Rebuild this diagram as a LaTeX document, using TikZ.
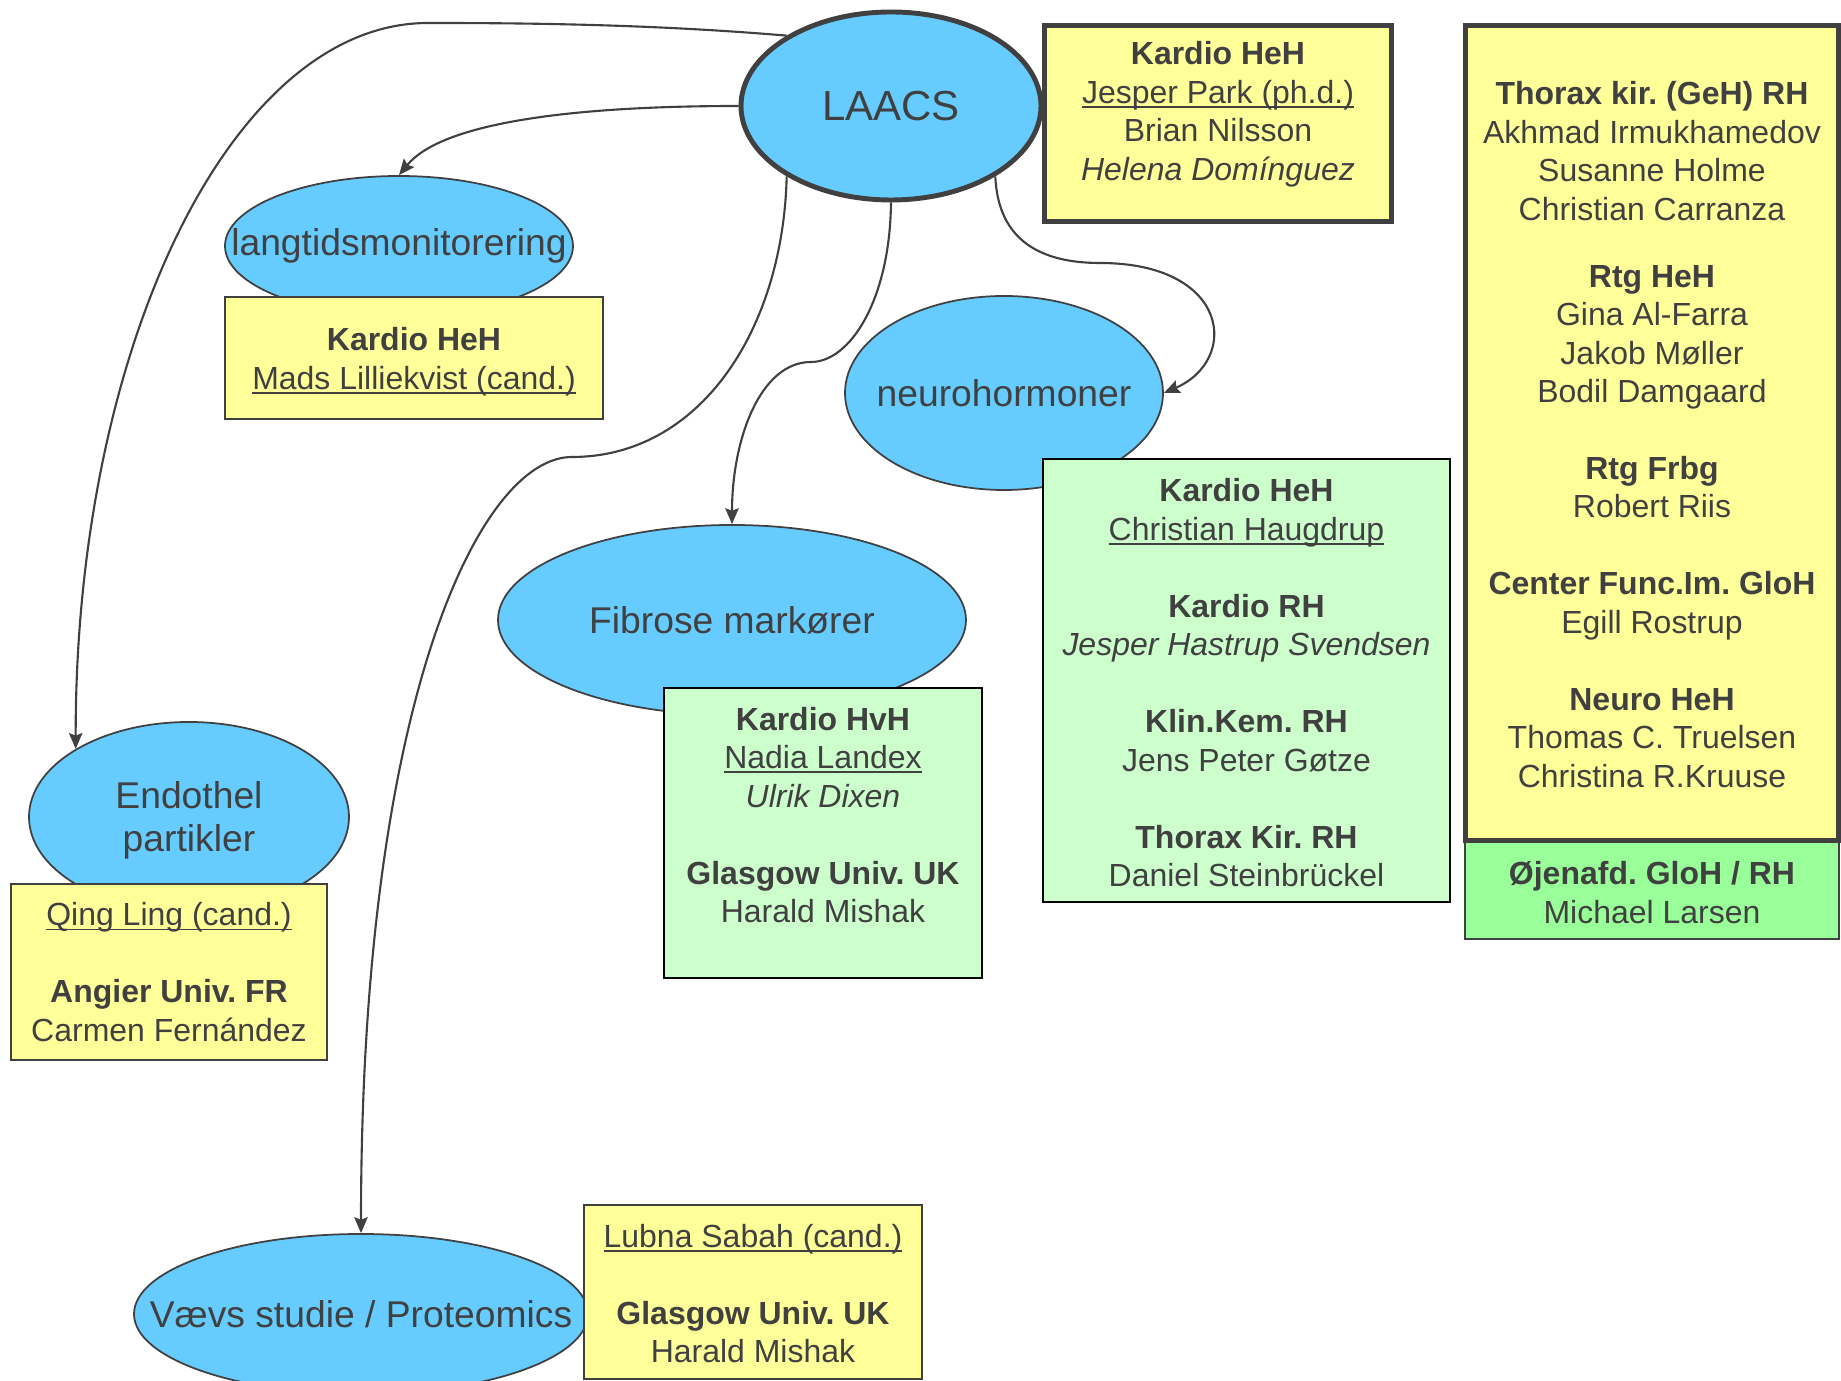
\documentclass[tikz,border=0pt]{standalone}
\usepackage{xcolor}
\usepackage{fontspec}
\setmainfont{Liberation Sans}
\usepackage{tikz}
\usetikzlibrary{shapes,arrows.meta,positioning,calc}

\definecolor{topicblue}{HTML}{66CCFF}
\definecolor{boxyellow}{HTML}{FFFF99}
\definecolor{boxgreen}{HTML}{CCFFCC}
\definecolor{eyegreen}{HTML}{99FF99}
\definecolor{ink}{HTML}{404040}

\frenchspacing
\newcommand{\zw}[1]{\makebox[0pt]{#1}}
\newcommand{\grp}{\\[3.85mm]}
\newcommand{\ulname}[1]{\setbox0\hbox{#1}\rlap{\rule[-1.2pt]{\wd0}{0.45pt}}\box0}

\begin{document}
\begin{tikzpicture}[
    topic/.style={ellipse, draw=ink, fill=topicblue, line width=0.5pt, inner sep=0pt,
        text=ink, font=\fontsize{10.6}{12.2}\selectfont},
    panel/.style={rectangle, draw=ink, line width=0.5pt, inner sep=0pt, outer sep=0pt},
    names/.style={inner sep=0pt, align=center, text=ink, font=\fontsize{9.1}{10.95}\selectfont},
    conn/.style={draw=ink, line width=0.6pt, -{Stealth[length=4.5pt,width=3.8pt,inset=0.7pt]}}
]
    \path[use as bounding box, fill=white] (0,0) rectangle (18.41,-13.81);

    % Topics
    \node[topic, line width=1.4pt, minimum width=3.00cm, minimum height=1.88cm,
        font=\fontsize{11.95}{14}\selectfont] (laacs) at (8.91,-1.06) {LAACS};
    \node[topic, minimum width=3.48cm, minimum height=1.40cm] (langtid) at (3.99,-2.46) {\zw{langtidsmonitorering}};
    \node[topic, minimum width=3.18cm, minimum height=1.94cm] (neuro) at (10.04,-3.93) {\zw{neurohormoner}};
    \node[topic, minimum width=4.68cm, minimum height=1.90cm] (fibrose) at (7.32,-6.20) {Fibrose markører};
    \node[topic, minimum width=3.20cm, minimum height=1.90cm, align=center] (endothel) at (1.89,-8.17) {\\[-0.9mm]Endothel\\partikler};
    \node[topic, minimum width=4.54cm, minimum height=1.60cm] (vaev) at (3.61,-13.14) {\zw{Vævs studie / Proteomics}};

    % Connectors
    \draw[conn] (laacs.146) .. controls (6.50,-0.24) and (5.20,-0.23) .. (4.28,-0.23)
        .. controls (2.30,-0.23) and (0.75,-3.50) .. (endothel.149);
    \draw[conn] (laacs.west) .. controls (5.60,-1.06) and (4.40,-1.25) .. (langtid.north);
    \draw[conn] (laacs.214) .. controls (7.83,-3.30) and (7.00,-4.57) .. (5.72,-4.57)
        .. controls (4.80,-4.57) and (3.61,-7.00) .. (vaev.north);
    \draw[conn] (laacs.south) .. controls (8.90,-3.00) and (8.50,-3.62) .. (8.11,-3.62)
        .. controls (7.60,-3.62) and (7.32,-4.40) .. (fibrose.north);
    \draw[conn] (laacs.326) .. controls (9.98,-2.40) and (10.40,-2.63) .. (11.00,-2.63)
        .. controls (12.30,-2.63) and (12.40,-3.60) .. (neuro.east);

    % Groups
    \node[panel, fill=boxyellow, line width=1.4pt, minimum width=3.475cm, minimum height=1.96cm] (hehbox) at (12.18,-1.235) {};
    \node[names, below=0.155cm of hehbox.north] (hehtxt)
        {\textbf{Kardio HeH}\\\ulname{Jesper Park (ph.d.)}\\Brian Nilsson\\\textit{Helena Domínguez}};

    \node[panel, fill=boxyellow, minimum width=3.78cm, minimum height=1.22cm] (langbox) at (4.14,-3.58) {};
    \node[names, below=0.30cm of langbox.north] (langtxt)
        {\textbf{Kardio HeH}\\\ulname{Mads Lilliekvist (cand.)}};

    \node[panel, draw=black, fill=boxgreen, minimum width=4.07cm, minimum height=4.43cm] (neurobox) at (12.465,-6.805) {};
    \node[names, below=0.19cm of neurobox.north] (neurotxt)
        {\textbf{Kardio HeH}\\\ulname{Christian Haugdrup}\grp
         \textbf{Kardio RH}\\\textit{Jesper Hastrup Svendsen}\grp
         \textbf{Klin.Kem. RH}\\Jens Peter Gøtze\grp
         \textbf{Thorax Kir. RH}\\Daniel Steinbrückel};

    \node[panel, draw=black, fill=boxgreen, minimum width=3.18cm, minimum height=2.90cm] (fibbox) at (8.23,-8.33) {};
    \node[names, below=0.185cm of fibbox.north] (fibtxt)
        {\textbf{Kardio HvH}\\\ulname{Nadia Landex}\\\textit{Ulrik Dixen}\grp
         \textbf{Glasgow Univ. UK}\\Harald Mishak};

    \node[panel, fill=boxyellow, minimum width=3.16cm, minimum height=1.76cm] (endobox) at (1.69,-9.72) {};
    \node[names, below=0.18cm of endobox.north] (endotxt)
        {\ulname{Qing Ling (cand.)}\grp\textbf{Angier Univ. FR}\\Carmen Fernández};

    \node[panel, fill=boxyellow, minimum width=3.38cm, minimum height=1.74cm] (vaevbox) at (7.53,-12.92) {};
    \node[names, below=0.185cm of vaevbox.north] (vaevtxt)
        {\ulname{Lubna Sabah (cand.)}\grp\textbf{Glasgow Univ. UK}\\Harald Mishak};

    \node[panel, fill=eyegreen, minimum width=3.74cm, minimum height=0.98cm] (eyebox) at (16.52,-8.90) {};
    \node[names, below=0.20cm of eyebox.north] (eyetxt)
        {\textbf{Øjenafd. GloH / RH}\\Michael Larsen};

    \node[panel, fill=boxyellow, line width=1.4pt, minimum width=3.735cm, minimum height=8.155cm] (rightbox) at (16.52,-4.33) {};
    \node[names, below=0.555cm of rightbox.north] (righttxt)
        {\textbf{Thorax kir. (GeH) RH}\\Akhmad Irmukhamedov\\Susanne Holme\\Christian Carranza\\[2.85mm]
         \textbf{Rtg HeH}\\Gina Al-Farra\\Jakob Møller\\Bodil Damgaard\grp
         \textbf{Rtg Frbg}\\Robert Riis\grp
         \textbf{Center Func.Im. GloH}\\Egill Rostrup\grp
         \textbf{Neuro HeH}\\Thomas C. Truelsen\\Christina R.Kruuse};
\end{tikzpicture}
\end{document}
